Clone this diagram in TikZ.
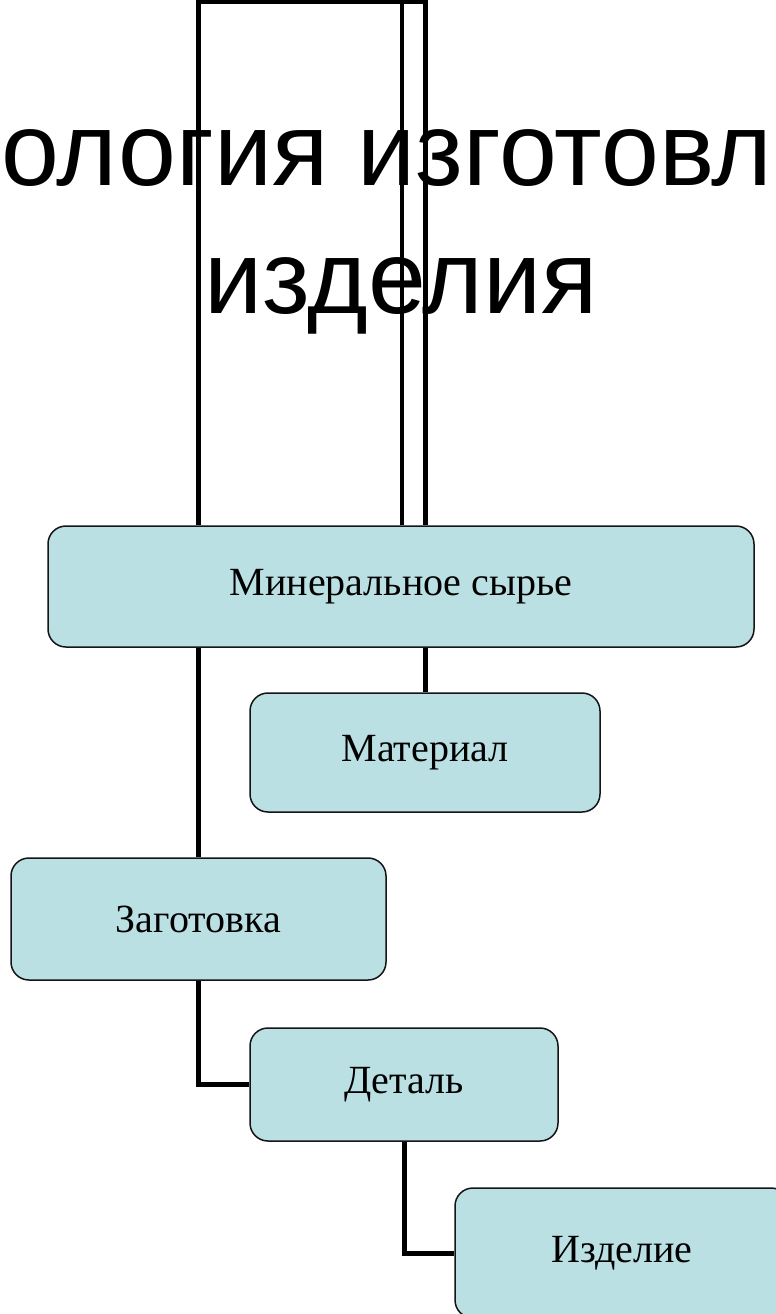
\documentclass[tikz,border=0pt]{standalone}
\usepackage{fontspec}
\setmainfont{Liberation Serif}
\newfontfamily\titlefont{Liberation Sans}
\definecolor{boxfill}{RGB}{187,224,227}
\definecolor{boxline}{RGB}{20,20,20}
\begin{document}
\begin{tikzpicture}[x=1pt,y=-1pt,
  stagebox/.style={draw=boxline, line width=1.5pt, fill=boxfill, rounded corners=18pt,
    inner sep=0pt, font=\fontsize{40}{48}\selectfont},
  conn/.style={line width=5pt, black},
  titletext/.style={inner sep=0pt, font=\titlefont\fontsize{104}{125}\selectfont}]
\useasboundingbox (0,0) rectangle (776,1314);
% title
\node[titletext, anchor=base west] (title1) at (1,185) {ология изготовл};
\node[titletext, anchor=base] (title2) at (401,313) {изделия};
% boxes
\node[stagebox, minimum width=706pt, minimum height=121pt] (min) at (401,586.5) {Минеральное сырье};
\node[stagebox, minimum width=350pt, minimum height=119pt] (mat) at (425,752.5) {Материал};
\node[stagebox, minimum width=375pt, minimum height=122pt] (zag) at (198.5,919) {Заготовка};
\node[stagebox, minimum width=308pt, minimum height=113pt] (det) at (404,1084.5) {Деталь};
\node[stagebox, minimum width=334pt, minimum height=130pt] (izd) at (622,1253) {Изделие};
% top frame connectors
\coordinate (t1) at (198,2);
\coordinate (t2) at (402,2);
\coordinate (t3) at (425,2);
\draw[conn] (min.north -| t1) -- (t1) -- (t3) -- (min.north -| t3);
\draw[conn, line width=4.5pt] (t2) -- (min.north -| t2);
% hierarchy connectors
\draw[conn] (min.south -| mat.north) -- (mat.north);
\draw[conn] (min.south -| zag.north) -- (zag.north);
\draw[conn] (zag.south) |- (det.west);
\draw[conn] (det.south) |- (izd.west);
\end{tikzpicture}
\end{document}
